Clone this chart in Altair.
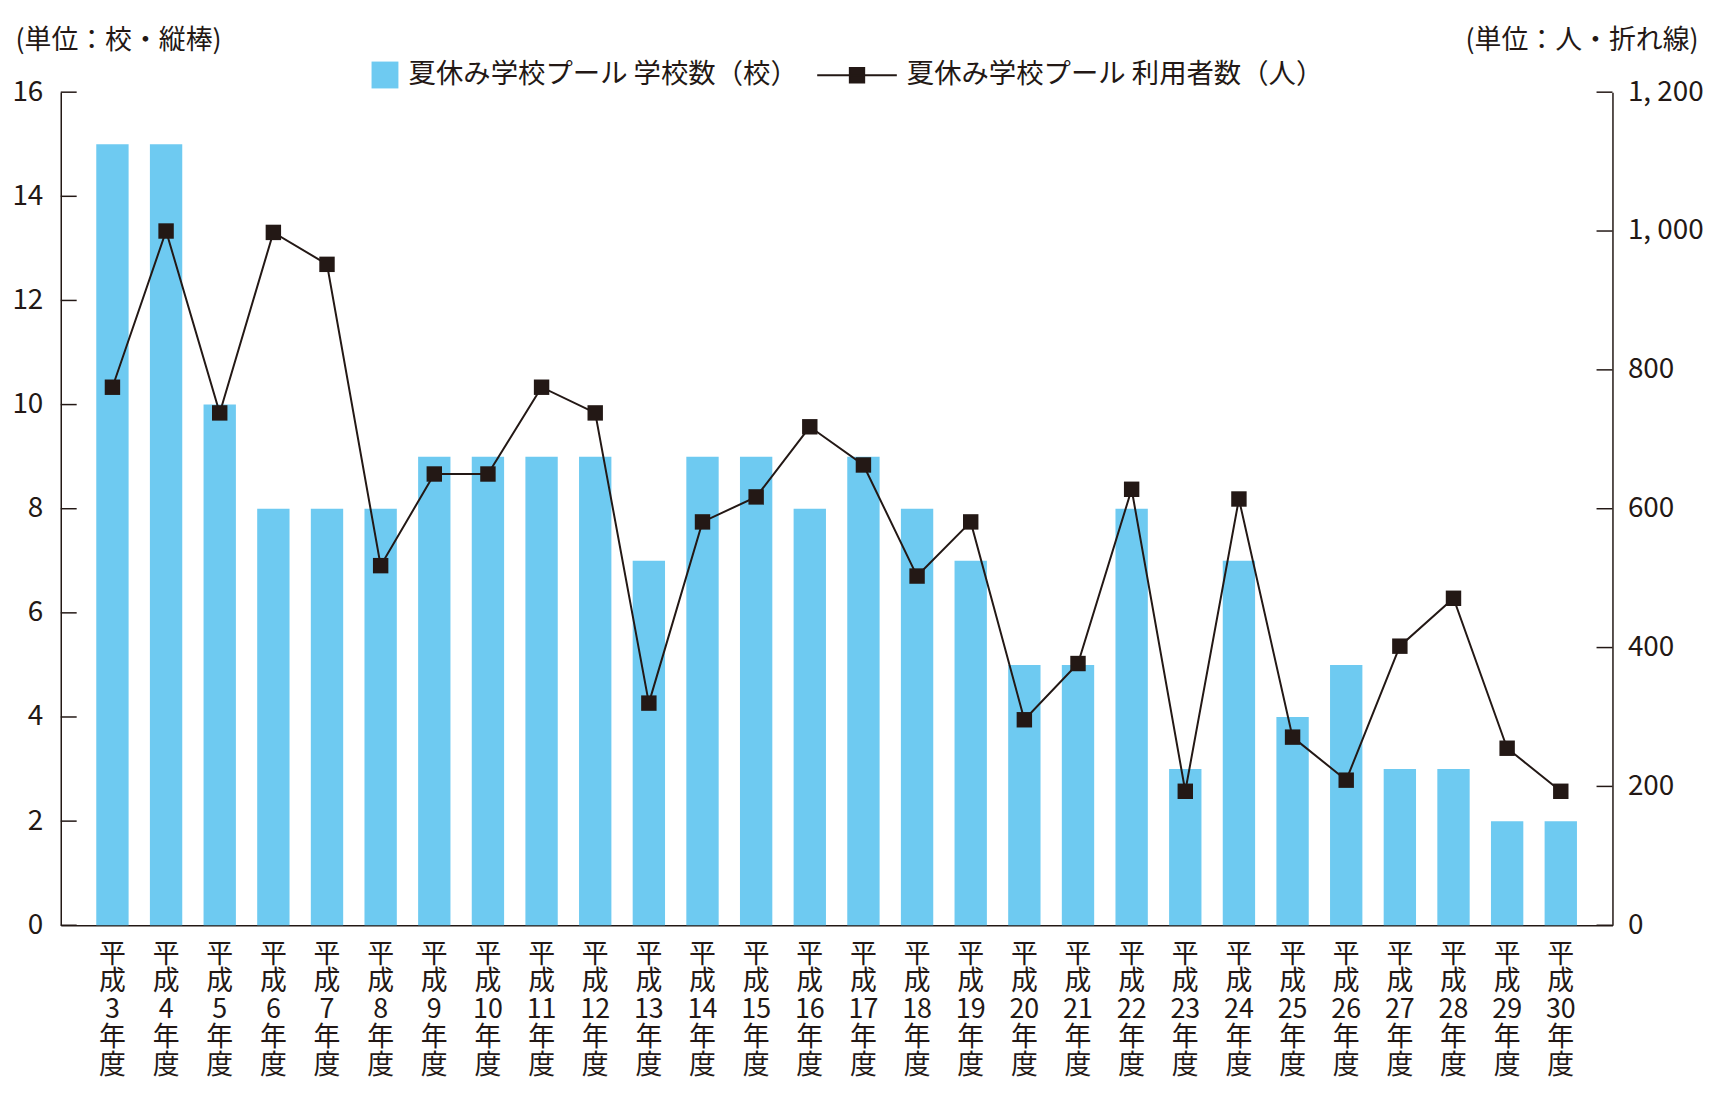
import altair as alt
import pandas as pd

# ---- data ----
years = list(range(3, 31))
categories = [f"平成{y}年度" for y in years]
schools = [15, 15, 10, 8, 8, 8, 9, 9, 9, 9, 7, 9, 9, 8, 9, 8, 7, 5, 5, 8, 3, 7, 4, 5, 3, 3, 2, 2]
users = [775, 1000, 738, 998, 952, 518, 650, 650, 775, 738, 320, 581, 617, 718, 663,
         503, 581, 296, 377, 628, 193, 614, 271, 209, 402, 471, 255, 193]
bar_name = "夏休み学校プール 学校数（校）"
line_name = "夏休み学校プール 利用者数（人）"
left_ticks = [0, 2, 4, 6, 8, 10, 12, 14, 16]
right_ticks = [0, 200, 400, 600, 800, 1000, 1200]

df = pd.DataFrame({
    "cat": categories,
    "schools": schools,
    "users": users,
    "s_bar": [bar_name] * len(categories),
    "s_line": [line_name] * len(categories),
})
df_lt = pd.DataFrame({"schools": left_ticks})
df_rt = pd.DataFrame({"users": right_ticks})

W, H = 1559, 837
TICK = 16
INK = "#231815"
BLUE = "#6ECAF1"
CJK = "Noto Sans CJK JP"
NUM = "Liberation Sans Narrow, Noto Sans CJK JP"

x_enc = alt.X(
    "cat:N",
    sort=categories,
    scale=alt.Scale(paddingInner=0.397, paddingOuter=0.662),
    axis=alt.Axis(
        title=None,
        ticks=False,
        labelAngle=0,
        labelAlign="center",
        labelBaseline="top",
        labelPadding=16,
        labelFontSize=27,
        labelLineHeight=28,
        labelFont=CJK,
        labelColor=INK,
        domainColor=INK,
        domainWidth=1.5,
        labelExpr="['平','成', replace(replace(datum.label,'平成',''),'年度',''),'年','度']",
    ),
)

bars = alt.Chart(df).mark_bar(opacity=1).encode(
    x=x_enc,
    y=alt.Y(
        "schools:Q",
        scale=alt.Scale(domain=[0, 16], nice=False),
        axis=alt.Axis(
            orient="left",
            values=left_ticks,
            grid=False,
            ticks=False,
            labelPadding=18,
            labelFontSize=28,
            labelFont=NUM,
            labelColor=INK,
            domainColor=INK,
            domainWidth=1.5,
            title="(単位：校・縦棒)",
            titleAngle=0,
            titleAlign="left",
            titleBaseline="middle",
            titleX=-46,
            titleY=-52,
            titleFontSize=27,
            titleFontWeight="normal",
            titleFont=CJK,
            titleColor=INK,
        ),
    ),
    color=alt.Color(
        "s_bar:N",
        scale=alt.Scale(domain=[bar_name], range=[BLUE]),
        legend=alt.Legend(
            title=None,
            orient="none",
            legendX=312,
            legendY=-31,
            padding=0,
            symbolType="square",
            symbolSize=729,
            symbolStrokeWidth=0,
            labelOffset=10,
            labelFontSize=27.5,
            labelFont=CJK,
            labelColor=INK,
            labelLimit=600,
        ),
    ),
)

left_tick_marks = alt.Chart(df_lt).mark_rule(color=INK, strokeWidth=1.5).encode(
    y=alt.Y("schools:Q"),
    x=alt.value(0),
    x2=alt.value(TICK),
)

y_right = alt.Y(
    "users:Q",
    scale=alt.Scale(domain=[0, 1200], nice=False),
    axis=alt.Axis(
        orient="right",
        values=right_ticks,
        grid=False,
        ticks=False,
        labelPadding=15,
        labelFontSize=28,
        labelFont=NUM,
        labelColor=INK,
        domainColor=INK,
        domainWidth=1.5,
        labelExpr="replace(format(datum.value, ','), ',', ', ')",
        title="(単位：人・折れ線)",
        titleAngle=0,
        titleAlign="right",
        titleBaseline="middle",
        titleX=86,
        titleY=-52,
        titleFontSize=27,
        titleFontWeight="normal",
        titleFont=CJK,
        titleColor=INK,
    ),
)

line = alt.Chart(df).mark_line(strokeWidth=2).encode(
    x=alt.X("cat:N", sort=categories),
    y=y_right,
    stroke=alt.Stroke(
        "s_line:N",
        scale=alt.Scale(domain=[line_name], range=[INK]),
        legend=alt.Legend(
            title=None,
            orient="none",
            legendX=759,
            legendY=-58,
            padding=0,
            symbolType="M-1,0L1,0M-0.18,-0.18L0.18,-0.18L0.18,0.18L-0.18,0.18Z",
            symbolSize=6400,
            symbolStrokeWidth=2,
            symbolFillColor=INK,
            labelOffset=9,
            labelFontSize=27.5,
            labelFont=CJK,
            labelColor=INK,
            labelLimit=600,
        ),
    ),
)

pts = alt.Chart(df).mark_point(shape="square", filled=True, size=240, color=INK, opacity=1).encode(
    x=alt.X("cat:N", sort=categories),
    y=alt.Y("users:Q"),
)

right_tick_marks = alt.Chart(df_rt).mark_rule(color=INK, strokeWidth=1.5).encode(
    y=alt.Y("users:Q"),
    x=alt.value(W - TICK),
    x2=alt.value(W),
)

chart = (
    alt.layer(
        alt.layer(bars, left_tick_marks),
        alt.layer(line, pts, right_tick_marks),
    )
    .resolve_scale(y="independent")
    .properties(
        width=W,
        height=H,
        padding={"left": 53, "top": 82, "right": 100, "bottom": 175},
        autosize=alt.AutoSizeParams(type="none"),
        background="white",
    )
    .configure_view(stroke=None)
)

chart.save("out.html", embed_options={"renderer": "svg", "actions": False})
